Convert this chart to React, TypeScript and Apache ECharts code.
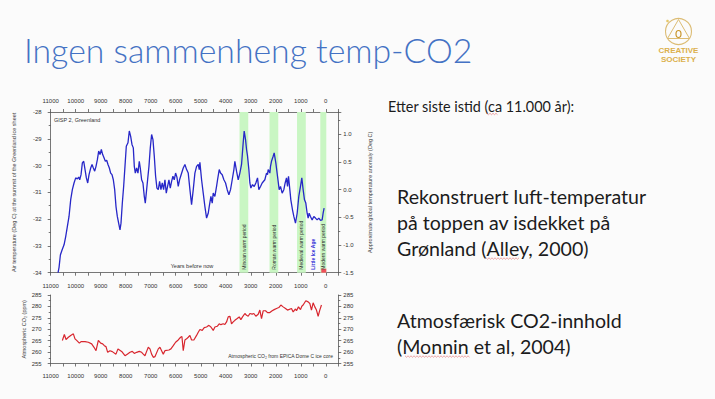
import { useEffect, useRef } from "react";
import * as echarts from "echarts";

// ---- GISP2 Greenland air temperature (years before now, deg C) ----
const gispYears = [
  10706, 10666, 10613, 10546, 10466, 10400, 10333, 10267, 10200, 10134,
  10067, 10000, 9934, 9880, 9840, 9787, 9734, 9680, 9627, 9574,
  9520, 9467, 9400, 9347, 9294, 9241, 9188, 9134, 9081, 9028,
  8975, 8922, 8868, 8815, 8762, 8709, 8655, 8602, 8549, 8496,
  8442, 8389, 8336, 8283, 8229, 8189, 8136, 8083, 8030, 7977,
  7910, 7857, 7804, 7750, 7697, 7657, 7617, 7564, 7511, 7458,
  7418, 7364, 7311, 7258, 7218, 7178, 7125, 7071, 7018, 6965,
  6911, 6858, 6805, 6752, 6698, 6645, 6592, 6539, 6485, 6432,
  6379, 6326, 6272, 6219, 6166, 6113, 6060, 6006, 5953, 5900,
  5847,
  5700, 5633, 5566, 5500, 5433, 5367, 5300, 5234, 5167, 5100,
  5060, 5034, 4967, 4901, 4834, 4767, 4701, 4661, 4594, 4541,
  4501, 4435, 4368, 4328, 4261, 4208, 4142, 4075, 4008, 3942,
  3875, 3809, 3742, 3675, 3636, 3569, 3502, 3436, 3369, 3303,
  3263, 3209, 3169, 3129, 3076, 3036, 2996, 2930, 2863, 2797,
  2730, 2677, 2610, 2544, 2437, 2370, 2330, 2304, 2237, 2211,
  2171, 2104, 2064, 1998, 1931, 1864, 1811, 1745, 1678, 1625,
  1571, 1531, 1491, 1438, 1398, 1332, 1278, 1212, 1145, 1079,
  1012, 959, 906, 852, 799, 746, 706, 666, 613, 546,
  479, 413, 346, 280, 213, 146, 107, 67,
];
const gispTemp = [
  -34.0, -33.8, -33.34, -33.15, -32.96, -32.65, -32.27, -31.9, -31.27, -30.9,
  -30.65, -30.46, -30.5, -30.43, -30.53, -30.34, -29.9, -29.84, -30.15, -30.46,
  -30.65, -30.34, -30.09, -29.96, -30.09, -30.21, -30.03, -29.78, -29.46, -29.59,
  -29.4, -29.59, -29.71, -29.84, -29.8, -29.96, -30.09, -30.28, -30.34, -30.53,
  -30.9, -31.53, -31.9, -32.15, -32.4, -32.15, -31.4, -30.78, -30.03, -29.28,
  -29.15, -28.71, -28.9, -29.21, -29.34, -30.03, -30.28, -30.09, -30.28, -29.84,
  -30.09, -30.53, -30.65, -31.15, -31.4, -31.03, -30.53, -30.03, -29.34, -28.84,
  -29.03, -29.65, -30.4, -30.84, -30.9, -30.59, -30.9, -30.65, -30.9, -30.53,
  -31.03, -30.78, -30.53, -30.84, -30.59, -30.4, -30.53, -30.28, -30.43, -30.78,
  -30.53,
  -30.09, -29.96, -30.15, -30.28, -30.9, -31.46, -30.9, -30.28, -30.03, -29.96,
  -30.15, -29.88, -30.53, -31.03, -31.53, -31.96, -31.78, -31.53, -31.15, -31.4,
  -31.03, -31.15, -30.78, -30.53, -30.15, -30.28, -30.34, -30.53, -30.65, -30.9,
  -31.09, -30.9, -30.53, -30.15, -29.84, -30.21, -30.53, -30.28, -29.96, -29.15,
  -28.71, -29.03, -29.4, -29.65, -30.15, -30.65, -30.84, -30.71, -30.78, -30.65,
  -30.46, -30.9, -30.78, -30.65, -30.53, -30.28, -30.34, -30.15, -30.28, -30.03,
  -29.84, -29.65, -29.53, -29.9, -30.4, -30.9, -30.78, -31.03, -30.9, -30.65,
  -30.46, -30.78, -30.4, -30.9, -31.28, -31.65, -31.9, -32.15, -31.78, -31.15,
  -30.78, -30.46, -30.9, -31.28, -31.4, -31.78, -31.96, -31.78, -31.9, -32.03,
  -31.9, -31.96, -32.03, -31.96, -32.05, -32.03, -31.78, -31.59,
];

// ---- EPICA Dome C atmospheric CO2 (years before now, ppm) ----
const co2Years = [
  10534, 10454, 10387, 10294, 10200, 10094, 10028, 9961, 9854, 9787,
  9628, 9495, 9362, 9268, 9188, 9095, 9002, 8922, 8855, 8789,
  8722, 8629, 8536, 8390, 8310, 8163, 8030, 7937, 7830, 7737,
  7657, 7564, 7458, 7364, 7298, 7231, 7164, 7098, 7031, 6965,
  6898, 6832, 6698, 6632, 6499, 6432, 6272, 6193, 6099, 6006,
  5900, 5806, 5753, 5700, 5633, 5566, 5500, 5433, 5367, 5274,
  5167, 5100, 5034, 4941, 4861, 4767, 4674, 4594, 4501, 4435,
  4341, 4262, 4195, 4102, 4035, 3968, 3902, 3835, 3769, 3702,
  3636, 3542, 3462, 3396, 3329, 3236, 3169, 3103, 3036, 2943,
  2876, 2797, 2703, 2637, 2570, 2504, 2410, 2330, 2237, 2144,
  2064, 1971, 1878, 1798, 1705, 1611, 1531, 1372, 1305, 1212,
  1172, 1092, 1012, 959, 906, 799, 706, 639, 573, 506,
  439, 373, 306, 240, 173,
];
const co2Ppm = [
  265.1, 267.7, 265.5, 266.5, 267.3, 268.0, 265.8, 265.1, 263.9, 264.6,
  264.6, 264.3, 263.6, 262.1, 260.6, 265.1, 263.9, 263.6, 262.8, 262.4,
  259.9, 260.6, 260.2, 259.1, 261.4, 260.3, 258.4, 259.1, 259.9, 260.3,
  259.4, 259.9, 260.3, 259.9, 259.1, 258.4, 260.3, 262.1, 261.4, 259.1,
  257.7, 258.0, 261.4, 262.1, 259.1, 260.6, 260.9, 261.4, 262.8, 264.3,
  265.3, 266.5, 266.8, 260.6, 265.3, 265.8, 266.5, 267.3, 265.3, 265.3,
  267.3, 268.7, 269.9, 269.5, 270.7, 271.0, 271.7, 271.0, 269.5, 271.0,
  271.3, 272.4, 272.0, 272.4, 272.1, 273.2, 275.4, 275.7, 272.4, 273.2,
  273.9, 274.7, 275.4, 274.2, 275.4, 276.9, 276.1, 275.7, 276.9, 276.6,
  276.9, 275.7, 276.6, 278.4, 274.7, 278.1, 278.1, 277.3, 277.3, 278.1,
  278.6, 279.1, 279.5, 280.6, 279.8, 279.1, 278.4, 279.1, 277.6, 278.9,
  278.1, 279.8, 278.6, 280.1, 280.6, 282.5, 282.0, 281.3, 278.4, 281.6,
  279.8, 278.4, 275.7, 278.4, 280.6,
];

// ---- Climate periods (years before now) ----
const warmNames = ["Minoan warm period", "Roman warm period", "Medieval warm period", "Modern warm period"];
const warmStart = [3450, 2250, 1150, 220];
const warmEnd = [3100, 1900, 800, -20];
const coolName = "Little Ice Age";
const coolStart = 650;
const coolEnd = 350;
const modernMarkStart = 180;
const modernMarkEnd = -20;

// ---- Axis ranges ----
const yearMax = 11000;
const yearMin = -500;
const yearStep = 1000;
const tempMin = -34;
const tempMax = -28;
const anomMin = -1.5;
const anomMax = 1.4;
const co2Min = 255;
const co2Max = 285;

const TICK_FONT = "'Liberation Sans', Arial, sans-serif";
const SLIDE_FONT = "Lato, 'Open Sans', sans-serif";

export default function App() {
  const ref = useRef<HTMLDivElement>(null);

  useEffect(() => {
    const chart = echarts.init(ref.current!, null, { renderer: "svg" });

    const axisLineStyle = { color: "#555", width: 0.8 };
    const tickFont = { fontSize: 6, color: "#333", fontFamily: TICK_FONT };

    const xAxisCfg = (gridIndex: number, position: string, margin: number) => ({
      type: "value",
      gridIndex,
      position,
      min: -yearMax,
      max: -yearMin,
      interval: yearStep,
      axisLine: { show: true, onZero: false, lineStyle: axisLineStyle },
      axisTick: { show: true, length: 3, lineStyle: axisLineStyle },
      minorTick: { show: true, splitNumber: 2, length: 3, lineStyle: axisLineStyle },
      splitLine: { show: false },
      minorSplitLine: { show: false },
      axisLabel: {
        show: true,
        margin,
        showMaxLabel: false,
        formatter: (v: number) => (v > 0 ? "" : String(Math.abs(v))),
        ...tickFont,
      },
    });

    const yAxisCfg = (
      gridIndex: number,
      position: string,
      min: number,
      max: number,
      interval: number,
      margin: number,
      fmt: (v: number) => string,
      name: string,
      nameGap: number
    ) => ({
      type: "value",
      gridIndex,
      position,
      min,
      max,
      interval,
      name,
      nameLocation: "middle",
      nameGap,
      nameRotate: 90,
      nameTextStyle: { fontSize: 5.5, color: "#444", fontFamily: TICK_FONT },
      axisLine: { show: true, onZero: false, lineStyle: axisLineStyle },
      axisTick: { show: true, length: 3, lineStyle: axisLineStyle },
      minorTick: { show: true, splitNumber: 2, length: 2, lineStyle: axisLineStyle },
      splitLine: { show: false },
      minorSplitLine: { show: false },
      axisLabel: { show: true, margin, showMaxLabel: max % interval === 0, formatter: fmt, ...tickFont },
    });

    const gispData = gispYears.map((y, i) => [-y, gispTemp[i]]);
    const co2Data = co2Years.map((y, i) => [-y, co2Ppm[i]]);

    const bandLabel = (color: string, bold: boolean) => ({
      show: true,
      position: "insideBottom",
      rotate: 90,
      align: "left",
      verticalAlign: "middle",
      distance: 3,
      fontSize: 5,
      fontWeight: bold ? "bold" : "normal",
      color,
      fontFamily: TICK_FONT,
    });

    const markAreas: any[] = warmNames.map((n, i) => [
      { name: n, xAxis: -warmStart[i], itemStyle: { color: "#c9f6c3" }, label: bandLabel("#333", false) },
      { xAxis: -warmEnd[i] },
    ]);
    markAreas.push([
      { name: coolName, xAxis: -coolStart, itemStyle: { color: "rgba(0,0,0,0)" }, label: bandLabel("#2b2bd6", true) },
      { xAxis: -coolEnd },
    ]);
    markAreas.push([
      { name: "", xAxis: -modernMarkStart, yAxis: tempMin, itemStyle: { color: "#f0505a" }, label: { show: false } },
      { xAxis: -modernMarkEnd, yAxis: tempMin + 0.15 },
    ]);

    const wavy = (x0: number, x1: number, y: number) => {
      const pts: number[][] = [];
      let up = true;
      for (let x = x0; x <= x1; x += 1.5) {
        pts.push([x, up ? y - 0.7 : y + 0.7]);
        up = !up;
      }
      return pts;
    };

    const bodyText = (text: string, x: number, y: number, size: number) => ({
      type: "text",
      x,
      y,
      style: {
        text,
        fill: "#1c1c1c",
        fontSize: size,
        fontFamily: SLIDE_FONT,
        align: "left",
        verticalAlign: "middle",
      },
    });

    const option: any = {
      animation: false,
      backgroundColor: "#fbfbfb",
      grid: [
        { left: 50.7, top: 112, width: 287.6, height: 160.7 },
        { left: 50.7, top: 295, width: 287.6, height: 68.5 },
      ],
      xAxis: [xAxisCfg(0, "bottom", 10), xAxisCfg(0, "top", 8), xAxisCfg(1, "bottom", 9)],
      yAxis: [
        yAxisCfg(0, "left", tempMin, tempMax, 1, 9, (v) => String(v),
          "Air temperature (Deg C) at the summit of the Greenland ice sheet", 34),
        yAxisCfg(0, "right", anomMin, anomMax, 0.5, 5, (v) => v.toFixed(1),
          "Approximate global temperature anomaly (Deg C)", 29),
        yAxisCfg(1, "left", co2Min, co2Max, 5, 9, (v) => String(v), "Atmospheric CO\u2082 (ppm)", 24),
        yAxisCfg(1, "right", co2Min, co2Max, 5, 5, (v) => String(v), "", 20),
      ],
      series: [
        {
          type: "line",
          name: "GISP 2, Greenland",
          xAxisIndex: 0,
          yAxisIndex: 0,
          data: gispData,
          showSymbol: false,
          lineStyle: { color: "#2727c8", width: 1.3 },
          z: 3,
          markArea: { silent: true, data: markAreas },
        },
        {
          type: "line",
          name: "Atmospheric CO2",
          xAxisIndex: 2,
          yAxisIndex: 2,
          data: co2Data,
          showSymbol: false,
          lineStyle: { color: "#d8262e", width: 1.2 },
        },
      ],
      graphic: [
        {
          type: "text",
          x: 24,
          y: 50,
          style: {
            text: "Ingen sammenheng temp-CO2",
            fill: "#4472c4",
            fontSize: 33.8,
            fontWeight: 300,
            fontFamily: SLIDE_FONT,
            align: "left",
            verticalAlign: "middle",
          },
        },
        // logo
        { type: "circle", shape: { cx: 678.5, cy: 31.5, r: 13 }, style: { fill: "none", stroke: "#dcbc74", lineWidth: 1.1 } },
        { type: "polygon", shape: { points: [[678.5, 19.5], [667.5, 38.5], [689.5, 38.5]] }, style: { fill: "none", stroke: "#dcbc74", lineWidth: 1 } },
        { type: "ellipse", shape: { cx: 678.5, cy: 34, rx: 2.5, ry: 3.5 }, style: { fill: "none", stroke: "#c9962c", lineWidth: 1.2 } },
        { type: "circle", shape: { cx: 667.5, cy: 21, r: 1.3 }, style: { fill: "#e6c86a" } },
        {
          type: "text", x: 678.5, y: 50.5,
          style: { text: "CREATIVE", fill: "#dbb04c", fontSize: 8, fontWeight: "bold", fontFamily: "'Liberation Sans', Arial, sans-serif", align: "center", verticalAlign: "middle" },
        },
        {
          type: "text", x: 678.5, y: 59.5,
          style: { text: "SOCIETY", fill: "#dbb04c", fontSize: 8, fontWeight: "bold", fontFamily: "'Liberation Sans', Arial, sans-serif", align: "center", verticalAlign: "middle" },
        },
        // chart annotations
        {
          type: "text", x: 54, y: 120,
          style: { text: "GISP 2, Greenland", fill: "#333", fontSize: 5.5, fontFamily: TICK_FONT, align: "left", verticalAlign: "middle" },
        },
        {
          type: "text", x: 192, y: 265.5,
          style: { text: "Years before now", fill: "#333", fontSize: 5.5, fontFamily: TICK_FONT, align: "center", verticalAlign: "middle" },
        },
        {
          type: "text", x: 333, y: 356,
          style: { text: "Atmospheric CO\u2082 from EPICA Dome C ice core", fill: "#333", fontSize: 5, fontFamily: TICK_FONT, align: "right", verticalAlign: "middle" },
        },
        // slide text
        bodyText("Etter siste istid (ca 11.000 år):", 388, 106.5, 14.4),
        bodyText("Rekonstruert luft-temperatur", 397, 196, 19.6),
        bodyText("på toppen av isdekket på", 397, 222, 19.6),
        bodyText("Grønland (Alley, 2000)", 397, 248, 19.6),
        bodyText("Atmosfærisk CO2-innhold", 397, 320, 19.6),
        bodyText("(Monnin et al, 2004)", 397, 346, 19.6),
        { type: "polyline", shape: { points: wavy(487, 498, 114) }, style: { stroke: "#e06a6a", lineWidth: 0.6, fill: "none" } },
        { type: "polyline", shape: { points: wavy(486, 519, 258.5) }, style: { stroke: "#e06a6a", lineWidth: 0.6, fill: "none" } },
        { type: "polyline", shape: { points: wavy(405, 470, 356.5) }, style: { stroke: "#e06a6a", lineWidth: 0.6, fill: "none" } },
      ],
    };

    chart.setOption(option);
    return () => chart.dispose();
  }, []);

  return <div ref={ref} style={{ position: "fixed", left: 0, top: 0, width: 715, height: 399 }} />;
}
